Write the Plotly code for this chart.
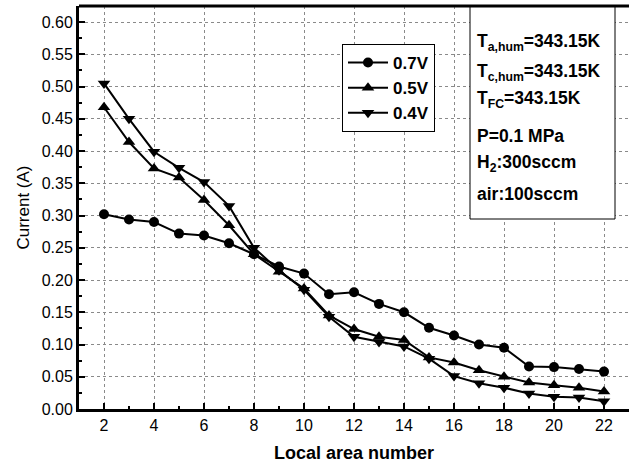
import plotly.graph_objects as go

x_vals = list(range(2, 23))
v07 = [0.302, 0.294, 0.290, 0.272, 0.269, 0.257, 0.240, 0.221, 0.210, 0.178, 0.181,
       0.163, 0.150, 0.126, 0.114, 0.100, 0.095, 0.066, 0.065, 0.062, 0.058]
v05 = [0.468, 0.414, 0.373, 0.359, 0.324, 0.285, 0.240, 0.213, 0.187, 0.145, 0.124,
       0.112, 0.107, 0.080, 0.072, 0.060, 0.050, 0.041, 0.037, 0.033, 0.027]
v04 = [0.505, 0.450, 0.399, 0.374, 0.352, 0.315, 0.250, 0.215, 0.185, 0.143, 0.112,
       0.104, 0.097, 0.078, 0.051, 0.040, 0.033, 0.024, 0.019, 0.018, 0.012]
series_names = ["0.7V", "0.5V", "0.4V"]
markers = ["circle", "triangle-up", "triangle-down"]
x_ticks = [2, 4, 6, 8, 10, 12, 14, 16, 18, 20, 22]
y_ticks = [0.00, 0.05, 0.10, 0.15, 0.20, 0.25, 0.30, 0.35, 0.40, 0.45, 0.50, 0.55, 0.60]
info_lines = ["T<sub>a,hum</sub>=343.15K", "T<sub>c,hum</sub>=343.15K", "T<sub>FC</sub>=343.15K",
              "P=0.1 MPa", "H<sub>2</sub>:300sccm", "air:100sccm"]

FONT = "Liberation Sans, Arial, sans-serif"
W, H = 629, 468
L, R, T, B = 79, 0, 6, 59
pw, ph = W - L - R, H - T - B

fig = go.Figure()
for name, vals, sym in zip(series_names, [v07, v05, v04], markers):
    fig.add_trace(go.Scatter(
        x=x_vals, y=vals, name="<b>" + name + "</b>", mode="lines+markers",
        line=dict(color="black", width=2),
        marker=dict(symbol=sym, size=10 if sym == "circle" else 11, color="black"),
    ))

def px_x(p):
    return (p - L) / pw

def px_y(p):
    return (H - B - p) / ph

# info box
fig.add_shape(type="rect", xref="paper", yref="paper",
              x0=px_x(470), x1=px_x(615), y0=px_y(219), y1=1,
              line=dict(color="black", width=1), fillcolor="white", layer="above")
line_y = [43, 72, 100, 136, 163, 194]
for txt, yy in zip(info_lines, line_y):
    fig.add_annotation(text="<b>" + txt + "</b>", xref="paper", yref="paper",
                       x=px_x(475), y=px_y(yy), xanchor="left", yanchor="middle",
                       showarrow=False, font=dict(family=FONT, size=17.5, color="black"))

# top border
fig.add_shape(type="line", xref="paper", yref="paper", x0=0, x1=1, y0=1, y1=1,
              line=dict(color="black", width=3), layer="above")

fig.update_layout(
    width=W, height=H,
    margin=dict(l=L, r=R, t=T, b=B, pad=0),
    paper_bgcolor="white", plot_bgcolor="white",
    font=dict(family=FONT, size=15, color="black"),
    showlegend=True,
    legend=dict(x=px_x(342), y=px_y(44), xanchor="left", yanchor="top",
                bgcolor="white", bordercolor="black", borderwidth=1,
                font=dict(family=FONT, size=17, color="black"),
                tracegroupgap=0, itemwidth=40),
    xaxis=dict(range=[1, 23], tickvals=x_ticks, ticks="inside", ticklen=6, tickwidth=2,
               tickcolor="black", showline=True, linecolor="black", linewidth=3,
               showgrid=True, gridcolor="#8a8a8a", griddash="3px,3px", gridwidth=1,
               zeroline=False,
               minor=dict(dtick=1, ticks="inside", ticklen=3, tickwidth=2, tickcolor="black", showgrid=False),
               tickfont=dict(size=16),
               title=dict(text="<b>Local area number</b>", font=dict(size=18), standoff=14)),
    yaxis=dict(range=[0, 0.625], tickvals=y_ticks, tickformat=".2f", ticks="inside", ticklen=6,
               tickwidth=2, tickcolor="black", showline=True, linecolor="black", linewidth=3,
               showgrid=True, gridcolor="#8a8a8a", griddash="3px,3px", gridwidth=1,
               zeroline=False,
               minor=dict(dtick=0.025, ticks="inside", ticklen=3, tickwidth=2, tickcolor="black", showgrid=False),
               tickfont=dict(size=16),
               title=dict(text="Current (A)", font=dict(size=17), standoff=8)),
)

fig.write_html("out.html")
